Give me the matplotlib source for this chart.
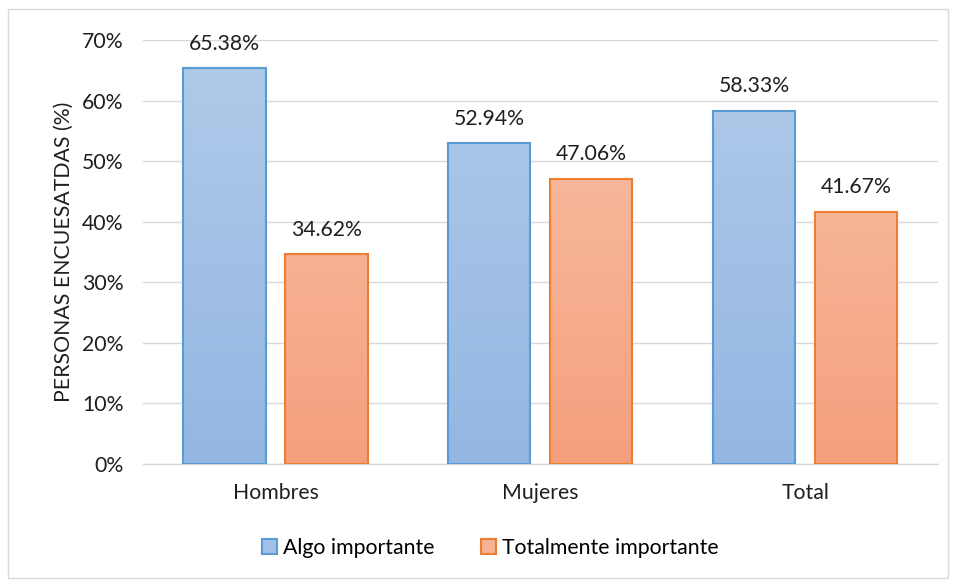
import numpy as np
import matplotlib.pyplot as plt
from matplotlib.patches import Rectangle
from matplotlib.colors import LinearSegmentedColormap

categories = ['Hombres', 'Mujeres', 'Total']
algo = [65.38, 52.94, 58.33]
totalmente = [34.62, 47.06, 41.67]
series_names = ['Algo importante', 'Totalmente importante']

plt.rcParams['font.family'] = ['Lato', 'DejaVu Sans']
txt = '#1f1f1f'
fs = 15.3

fig = plt.figure(figsize=(9.56, 5.81), dpi=100)
ax = fig.add_axes([0.1496, 0.2014, 0.8314, 0.7296])

# outer chart border
fig.patches.append(Rectangle((0.008, 0.006), 0.984, 0.978, transform=fig.transFigure,
                             fill=False, edgecolor='#d9d9d9', linewidth=1))

x = np.arange(len(categories))
w = 0.31
off = w / 2 + 0.0375

blue_cmap = LinearSegmentedColormap.from_list('b', ['#93b7e2', '#b1cae9'])
orange_cmap = LinearSegmentedColormap.from_list('o', ['#f5a07d', '#f8c2a9'])
grad = np.linspace(0, 1, 256).reshape(-1, 1)

def gradient_bars(xs, vals, cmap, edge):
    bars = ax.bar(xs, vals, w, color='none', edgecolor=edge, linewidth=1.5, zorder=3)
    for b in bars:
        x0, y0 = b.get_x(), b.get_y()
        im = ax.imshow(grad, cmap=cmap, origin='lower', aspect='auto',
                       extent=[x0, x0 + b.get_width(), 0, 70], zorder=2)
        clip = Rectangle((x0, y0), b.get_width(), b.get_height(), transform=ax.transData)
        im.set_clip_path(clip)
    return bars

b1 = gradient_bars(x - off, algo, blue_cmap, '#5b9bd5')
b2 = gradient_bars(x + off, totalmente, orange_cmap, '#ed7d31')

for xs, vals in [(x - off, algo), (x + off, totalmente)]:
    for xi, v in zip(xs, vals):
        ax.text(xi, v + 2.4, '{:.2f}%'.format(v), ha='center', va='bottom',
                fontsize=fs, color=txt)

ax.set_xlim(-0.5, 2.5)
ax.set_ylim(0, 70)
ax.set_yticks(np.arange(0, 71, 10))
ax.set_yticklabels(['{}%'.format(t) for t in range(0, 71, 10)])
ax.set_xticks(x)
ax.set_xticklabels(categories)
ax.tick_params(axis='both', length=0, labelsize=fs, colors=txt)
ax.tick_params(axis='y', pad=14)
ax.tick_params(axis='x', pad=14)
ax.yaxis.grid(True, color='#d9d9d9', linewidth=1, zorder=0)
ax.set_axisbelow(True)
for s in ['top', 'right', 'left']:
    ax.spines[s].set_visible(False)
ax.spines['bottom'].set_color('#d9d9d9')
ax.spines['bottom'].set_linewidth(1)
ax.set_ylabel('PERSONAS ENCUESATDAS (%)', fontsize=fs, color=txt, labelpad=6)

handles = [Rectangle((0, 0), 1, 1, facecolor='#a3c1e6', edgecolor='#5b9bd5', linewidth=1.5),
           Rectangle((0, 0), 1, 1, facecolor='#f7b293', edgecolor='#ed7d31', linewidth=1.5)]
fig.legend(handles, series_names, loc='center', bbox_to_anchor=(0.513, 0.057), ncol=2,
           frameon=False, fontsize=fs, handlelength=0.7, handleheight=0.7,
           handletextpad=0.3, columnspacing=2.2)

plt.savefig('out.png', dpi=100)
